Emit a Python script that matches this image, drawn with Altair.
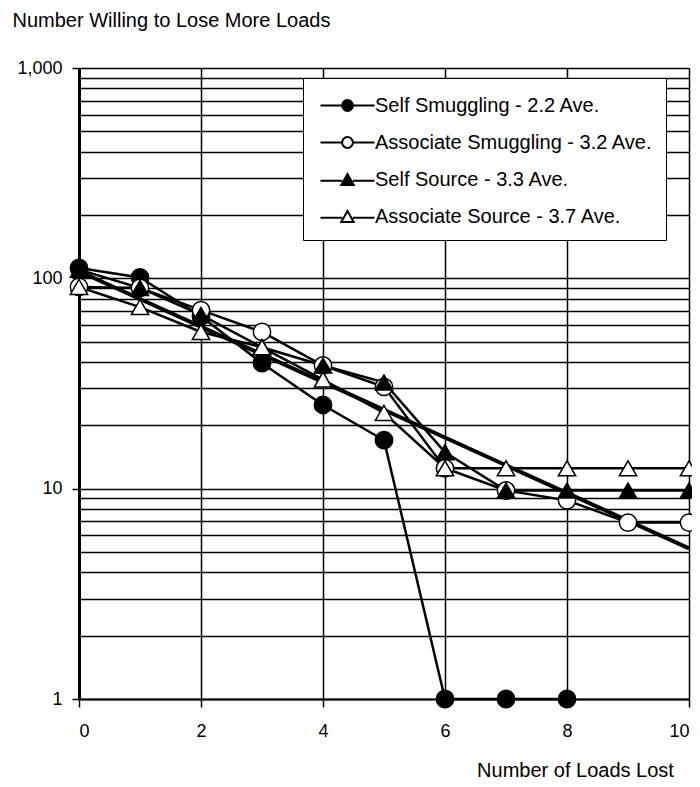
import altair as alt
import pandas as pd

# ---- data ----
loads_lost = [0, 1, 2, 3, 4, 5, 6, 7, 8, 9, 10]
series_names = [
    "Self Smuggling -  2.2 Ave.",
    "Associate Smuggling - 3.2 Ave.",
    "Self Source - 3.3 Ave.",
    "Associate Source - 3.7 Ave.",
]
self_smuggling = [112, 101, 66, 39.5, 25, 17, 1, 1, 1]          # x = 0..8
associate_smuggling = [91, 90, 70.6, 55.6, 38.5, 30.5, 12.5, 9.8, 8.8, 6.9, 6.9]
self_source = [110, 90, 67, 47, 38.5, 32, 14.9, 9.8, 9.8, 9.8, 9.8]
associate_source = [91, 73, 55.6, 47, 33, 22.9, 12.5, 12.5, 12.5, 12.5, 12.5]

trend_x = [0, 10]
trend_y = [108, 5.2]

x_ticks = [0, 2, 4, 6, 8, 10]
y_labels = [1, 10, 100, 1000]
y_grid = [1, 2, 3, 4, 5, 6, 7, 8, 9,
          10, 20, 30, 40, 50, 60, 70, 80, 90,
          100, 200, 300, 400, 500, 600, 700, 800, 900, 1000]

shapes = ["circle", "circle", "triangle-up", "triangle-up"]
fills = ["black", "white", "black", "white"]

# legend glyphs: line segment with marker (filled markers drawn as nested outlines)
_circ = lambda r: f"M{-r},0A{r},{r},0,1,1,{r},0A{r},{r},0,1,1,{-r},0Z"
_tri = lambda t, b, w: f"M0,{t}L{w},{b}L{-w},{b}Z"
legend_paths = [
    "M-2,0L-0.4,0M0.4,0L2,0" + _circ(0.4) + _circ(0.28) + _circ(0.16) + _circ(0.06),
    "M-2,0L-0.4,0M0.4,0L2,0" + _circ(0.4),
    "M-2,0.1L-0.4,0.1M0.4,0.1L2,0.1" + _tri(-0.4, 0.4, 0.46) + _tri(-0.218, 0.31, 0.304)
    + _tri(-0.042, 0.222, 0.152) + "M-0.06,0.14L0.06,0.14",
    "M-2,0.1L-0.4,0.1M0.4,0.1L2,0.1" + _tri(-0.4, 0.4, 0.46),
]

# ---- build tables ----
rows = []
for name, vals in zip(series_names, [self_smuggling, associate_smuggling, self_source, associate_source]):
    for x, v in zip(loads_lost, vals):
        rows.append({"series": name, "x": x, "y": v})
df = pd.DataFrame(rows)
trend = pd.DataFrame({"x": trend_x, "y": trend_y})

FONT = "Liberation Sans"
lab_test = "indexof([1,10,100,1000], datum.value) >= 0"

x_enc = alt.X("x:Q", scale=alt.Scale(domain=[0, 10], nice=False),
              axis=alt.Axis(values=x_ticks, format="d", title="Number of Loads Lost",
                            titleX=496, titleY=71, titleAlign="center", titleBaseline="middle",
                            titleFontSize=20, titleFontWeight="normal", titleFont=FONT,
                            labelFontSize=18, labelFont=FONT, labelPadding=15,
                            tickSize=8, tickColor="black", tickWidth=1.5,
                            domainColor="black", domainWidth=2,
                            grid=True, gridColor="black", gridWidth=1.5,
                            labelColor="black", titleColor="black"))
y_enc = alt.Y("y:Q", scale=alt.Scale(type="log", domain=[1, 1000], nice=False),
              axis=alt.Axis(values=y_grid, title="Number Willing to Lose More Loads",
                            titleAngle=0, titleX=-67, titleY=-48, titleAlign="left",
                            titleBaseline="middle", titleFontSize=20, titleFontWeight="normal",
                            titleFont=FONT, titleColor="black",
                            labelExpr=f"{lab_test} ? format(datum.value, ',') : ''",
                            labelFontSize=18, labelFont=FONT, labelColor="black", labelPadding=10,
                            tickSize=7, tickColor="black", tickWidth=1.5,
                            tickOpacity={"condition": {"test": lab_test, "value": 1}, "value": 0},
                            domainColor="black", domainWidth=3,
                            grid=True, gridColor="black", gridWidth=1.5))

lines = alt.Chart(df).mark_line(color="black", strokeWidth=2.5).encode(
    x=x_enc, y=y_enc, detail="series:N", order="x:Q")

trend_line = alt.Chart(trend).mark_line(color="black", strokeWidth=4).encode(x="x:Q", y="y:Q")

point_layers = []
for name, shp, fl in zip(series_names, shapes, fills):
    point_layers.append(
        alt.Chart(df).transform_filter(alt.datum.series == name).mark_point(
            shape=shp, filled=True, fill=fl, size=300, stroke="black", strokeWidth=1.5, opacity=1
        ).encode(x="x:Q", y="y:Q")
    )

leg = alt.Legend(title=None, orient="none", legendX=224, legendY=10,
                 padding=13, rowPadding=12,
                 strokeColor="black", fillColor="white",
                 symbolSize=729, symbolOffset=17,
                 symbolStrokeColor="black", symbolStrokeWidth=2,
                 symbolFillColor="transparent", symbolOpacity=1,
                 labelFont=FONT, labelFontSize=20, labelColor="black", labelOffset=13,
                 labelLimit=400)

legend_carrier = alt.Chart(df).transform_filter("datum.x < 0").mark_point(
    filled=False, opacity=1, color="black", stroke="black", strokeWidth=2
).encode(
    x="x:Q", y="y:Q",
    shape=alt.Shape("series:N", scale=alt.Scale(domain=series_names, range=legend_paths), legend=leg),
)

chart = alt.layer(lines, trend_line, *point_layers, legend_carrier).properties(
    width=610, height=631,
    autosize=alt.AutoSizeParams(type="none"),
    padding={"left": 71, "top": 60, "right": 3, "bottom": 80},
).configure_view(
    stroke="black", strokeWidth=2
).configure(background="white")

chart.save("out.html", embed_options={"renderer": "svg", "actions": False})
